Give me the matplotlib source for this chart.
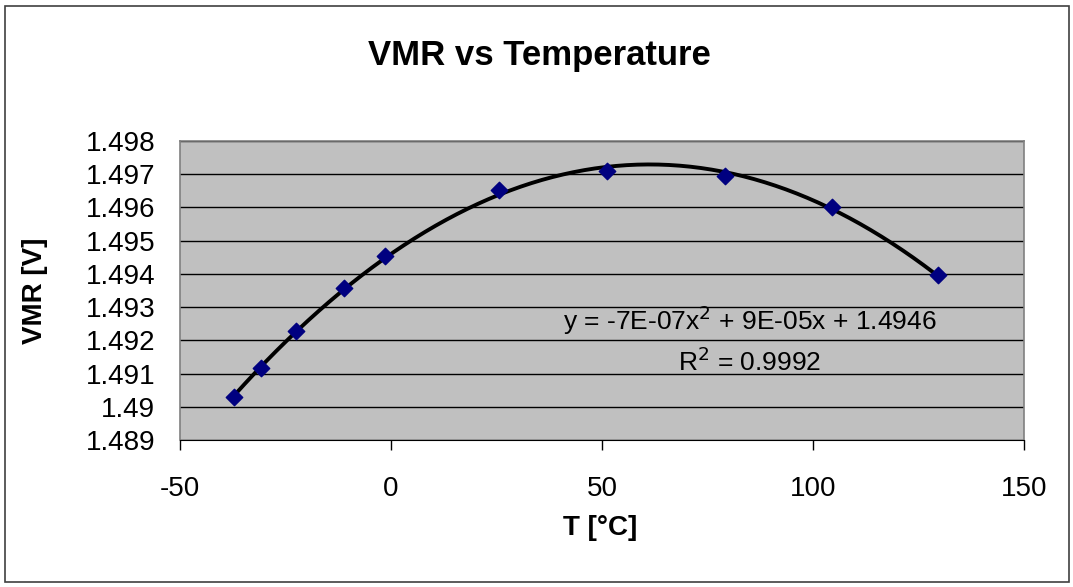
import matplotlib.pyplot as plt
import numpy as np
from matplotlib.patches import Rectangle

plt.rcParams["font.family"] = ["Liberation Sans", "DejaVu Sans"]
plt.rcParams["axes.unicode_minus"] = False

temp_c = [-37.2, -30.8, -22.5, -11.1, -1.4, 25.6, 51.2, 79.1, 104.5, 129.6]
vmr_v = [1.49029, 1.49116, 1.49228, 1.49357, 1.49454, 1.49652, 1.49710, 1.49695, 1.49601, 1.49396]

x_ticks = [-50, 0, 50, 100, 150]
y_ticks = [1.489, 1.490, 1.491, 1.492, 1.493, 1.494, 1.495, 1.496, 1.497, 1.498]
y_ticklabels = ["1.489", "1.49", "1.491", "1.492", "1.493", "1.494", "1.495", "1.496", "1.497", "1.498"]

fig = plt.figure(figsize=(10.73, 5.87), dpi=100)
fig.patches.append(Rectangle((0.0045, 0.0085), 0.9915, 0.982, transform=fig.transFigure,
                             fill=False, edgecolor="#404040", linewidth=1.2))

ax = fig.add_axes([0.1678, 0.2504, 0.7866, 0.5094])
ax.set_facecolor("#C0C0C0")

# 2nd order polynomial trendline (same as the Excel one)
coef = np.polyfit(temp_c, vmr_v, 2)
xs = np.linspace(min(temp_c), max(temp_c), 200)
ax.plot(xs, np.polyval(coef, xs), color="black", linewidth=2.8, zorder=3)
ax.scatter(temp_c, vmr_v, marker="D", s=70, color="#000080", zorder=4)

ax.set_xlim(-50, 150)
ax.set_ylim(1.489, 1.498)
ax.set_xticks(x_ticks)
ax.set_yticks(y_ticks)
ax.set_yticklabels(y_ticklabels)
ax.grid(axis="y", color="black", linewidth=1.0)
ax.set_axisbelow(True)

for side in ["top", "right", "left"]:
    ax.spines[side].set_color("#808080")
    ax.spines[side].set_linewidth(1.2)
ax.spines["bottom"].set_color("black")

ax.tick_params(axis="x", direction="out", length=7, width=1, pad=19, labelsize=20)
ax.tick_params(axis="y", length=0, pad=18, labelsize=20)

fig.text(0.503, 0.905, "VMR vs Temperature", ha="center", va="center",
         fontsize=25, fontweight="bold")
fig.text(0.559, 0.1, "T [°C]", ha="center", va="center", fontsize=20, fontweight="bold")
fig.text(0.033, 0.505, "VMR [V]", ha="center", va="center", rotation=90,
         fontsize=20, fontweight="bold")

ax.text(0.699, 0.455, "y = -7E-07x$^2$ + 9E-05x + 1.4946", transform=fig.transFigure,
        ha="center", va="center", fontsize=19)
ax.text(0.699, 0.383, "R$^2$ = 0.9992", transform=fig.transFigure,
        ha="center", va="center", fontsize=19)

fig.savefig("out.png", dpi=100)
